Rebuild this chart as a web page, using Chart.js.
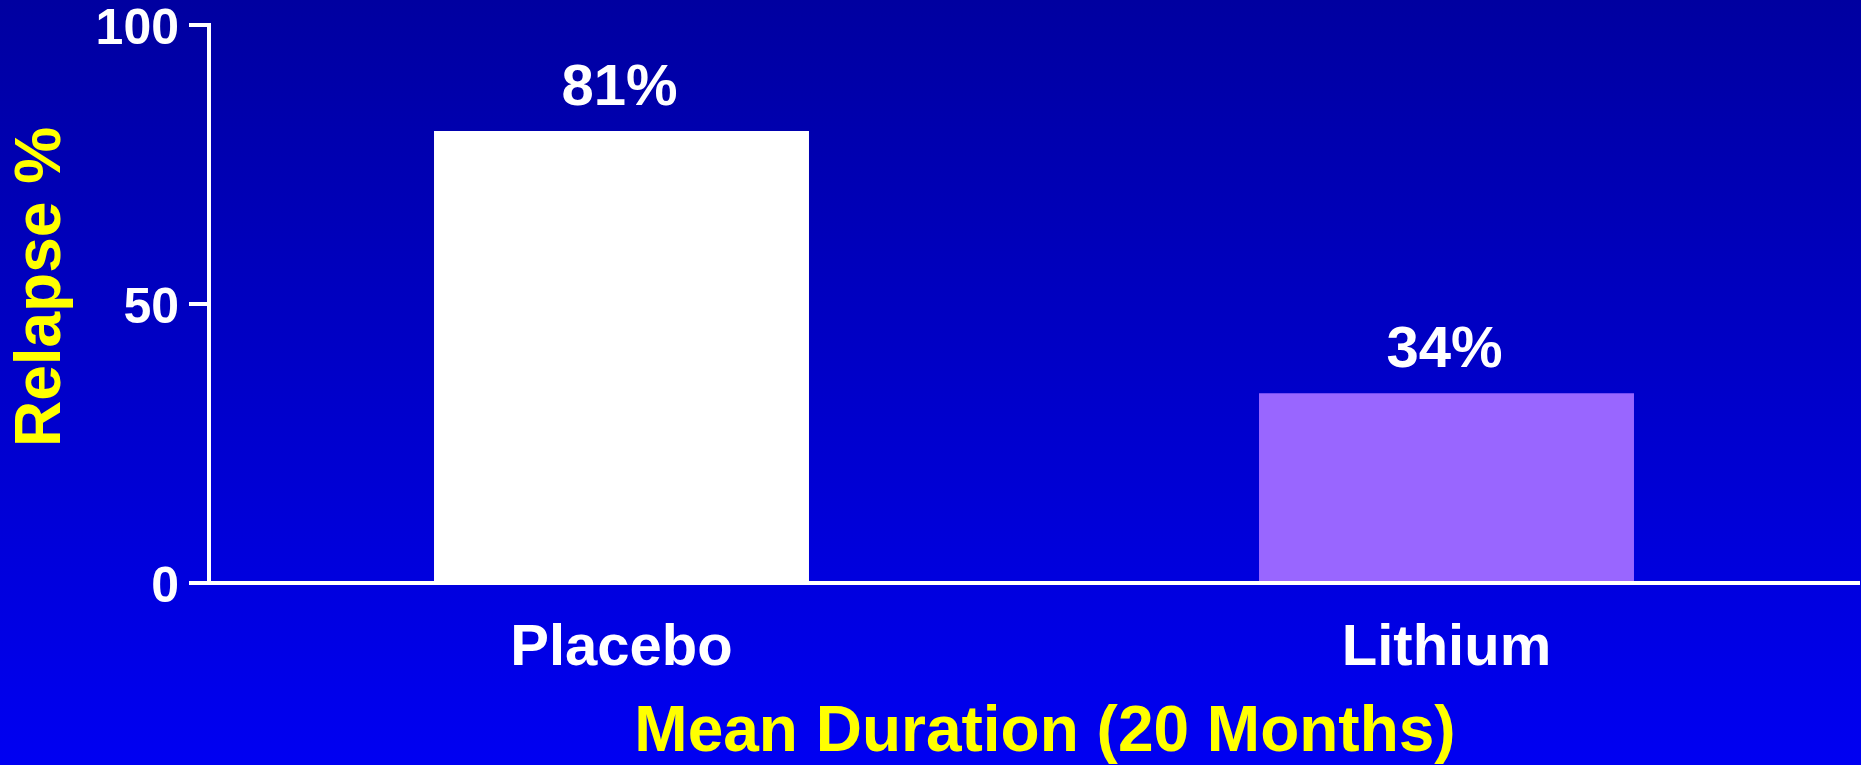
<!DOCTYPE html>
<html>
<head>
<meta charset="utf-8">
<style>
  html, body { margin: 0; padding: 0; }
  body { width: 1861px; height: 765px; overflow: hidden;
         background: linear-gradient(to bottom, #0000A0 0%, #0000F2 100%); }
  canvas { display: block; }
</style>
<script src="https://cdn.jsdelivr.net/npm/chart.js@4/dist/chart.umd.min.js"></script>
</head>
<body>
<canvas id="c" width="1861" height="765"></canvas>
<script>
const categories = ['Placebo', 'Lithium'];
const relapseValues = [81, 34];
const barColors = ['#FFFFFF', '#9966FF'];
const yTicks = [0, 50, 100];
const yTitle = 'Relapse %';
const xTitle = 'Mean Duration (20 Months)';

const FONT = '"Liberation Sans", Arial, Helvetica, sans-serif';

const valueLabels = {
  id: 'valueLabels',
  afterDatasetsDraw(chart) {
    const ctx = chart.ctx;
    const meta = chart.getDatasetMeta(0);
    ctx.save();
    ctx.font = 'bold 58px ' + FONT;
    ctx.fillStyle = '#FFFFFF';
    ctx.textAlign = 'center';
    ctx.textBaseline = 'alphabetic';
    meta.data.forEach((bar, i) => {
      ctx.fillText(relapseValues[i] + '%', bar.x - 2, bar.y - 26);
    });
    ctx.restore();
  }
};

// shift a scale's title slightly (reference title isn't exactly centred)
function shiftTitle(scale, dx, dy) {
  if (scale._titleShifted) return;
  const orig = scale.drawTitle;
  scale.drawTitle = function () {
    const ctx = this.ctx;
    ctx.save();
    ctx.translate(dx, dy);
    orig.apply(this, arguments);
    ctx.restore();
  };
  scale._titleShifted = true;
}

new Chart(document.getElementById('c'), {
  type: 'bar',
  data: {
    labels: categories,
    datasets: [{
      data: relapseValues,
      backgroundColor: barColors,
      borderWidth: 0,
      categoryPercentage: 1,
      barPercentage: 0.4545
    }]
  },
  options: {
    responsive: false,
    animation: false,
    layout: { padding: { left: 0, top: 25, right: 2, bottom: 0 } },
    plugins: { legend: { display: false }, tooltip: { enabled: false } },
    scales: {
      x: {
        offset: true,
        grid: { display: false, drawTicks: false, tickLength: 0 },
        border: { display: true, color: '#FFFFFF', width: 4 },
        ticks: {
          color: '#FFFFFF',
          font: { family: FONT, size: 58, weight: 'bold' },
          padding: 31,
          maxRotation: 0, minRotation: 0
        },
        title: {
          display: true,
          text: xTitle,
          color: '#FFFF00',
          font: { family: FONT, size: 64, weight: 'bold', lineHeight: 1.0 },
          padding: { top: 0, bottom: 0 }
        },
        afterFit(scale) {
          scale.height = 765 - 583;
          scale.paddingLeft = 0; scale.paddingRight = 0;
          shiftTitle(scale, 11, 0);
        }
      },
      y: {
        min: 0, max: 100,
        afterBuildTicks(scale) { scale.ticks = yTicks.map(v => ({ value: v })); },
        grid: {
          display: true, drawOnChartArea: false, drawTicks: true,
          tickLength: 20, color: '#FFFFFF', lineWidth: 4
        },
        border: { display: true, color: '#FFFFFF', width: 4 },
        ticks: {
          color: '#FFFFFF',
          font: { family: FONT, size: 50, weight: 'bold' },
          padding: 10,
          labelOffset: 5
        },
        title: {
          display: true,
          text: yTitle,
          color: '#FFFF00',
          font: { family: FONT, size: 64, weight: 'bold', lineHeight: 1.2 },
          padding: { top: 4, bottom: 0 }
        },
        afterFit(scale) {
          scale.width = 209;
          scale.paddingTop = 0; scale.paddingBottom = 0;
          shiftTitle(scale, 0, -17);
        }
      }
    }
  },
  plugins: [valueLabels]
});
</script>
</body>
</html>
